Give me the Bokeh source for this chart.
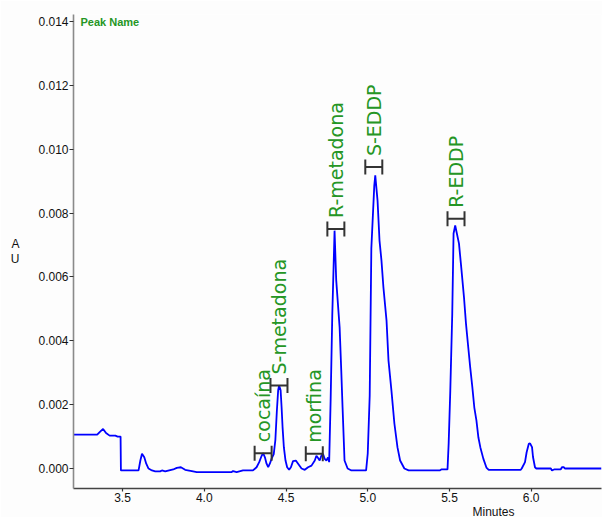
import math

from bokeh.core.properties import value
from bokeh.embed import file_html
from bokeh.models import (ColumnDataSource, FixedTicker, Label,
                          NumeralTickFormatter, Range1d, Title)
from bokeh.plotting import figure
from bokeh.resources import INLINE

# Chromatogram trace: retention time (minutes) and absorbance (AU)
time_min = [
    3.200, 3.345, 3.360, 3.381, 3.399, 3.421, 3.456, 3.470, 3.488, 3.490,
    3.598, 3.609, 3.619, 3.633, 3.645, 3.659, 3.680, 3.700, 3.730, 3.741,
    3.761, 3.810, 3.832, 3.857, 3.883, 3.924, 3.954, 4.168, 4.176, 4.198,
    4.237, 4.298, 4.320, 4.336, 4.351, 4.360, 4.371, 4.381, 4.391, 4.401,
    4.412, 4.425, 4.435, 4.444, 4.452, 4.458, 4.467, 4.473, 4.479, 4.487,
    4.497, 4.507, 4.519, 4.530, 4.543, 4.560, 4.574, 4.595, 4.615, 4.635,
    4.656, 4.676, 4.686, 4.696, 4.706, 4.716, 4.726, 4.737, 4.747, 4.757,
    4.764, 4.773, 4.783, 4.797, 4.807, 4.828, 4.838, 4.846, 4.858, 4.877,
    4.900, 4.990, 5.000, 5.012, 5.022, 5.040, 5.046, 5.060, 5.072, 5.084,
    5.096, 5.115, 5.127, 5.145, 5.163, 5.182, 5.198, 5.224, 5.250, 5.440,
    5.450, 5.488, 5.495, 5.505, 5.517, 5.525, 5.535, 5.558, 5.572, 5.589,
    5.601, 5.615, 5.627, 5.640, 5.652, 5.665, 5.677, 5.689, 5.707, 5.726,
    5.740, 5.935, 5.942, 5.962, 5.972, 5.985, 5.993, 6.005, 6.011, 6.023,
    6.031, 6.120, 6.127, 6.140, 6.180, 6.188, 6.200, 6.206, 6.430,
]
absorbance = [
    0.00106, 0.00106, 0.00114, 0.00124, 0.00111, 0.00103, 0.00103, 0.00100, 0.00100, -0.00006,
    -0.00006, 0.00025, 0.00046, 0.00035, 0.00015, 0.00000, -0.00006, -0.00009, -0.00009, -0.00006,
    -0.00009, -0.00003, 0.00002, 0.00004, -0.00004, -0.00008, -0.00011, -0.00011, -0.00008, -0.00011,
    -0.00006, -0.00006, 0.00004, 0.00020, 0.00040, 0.00048, 0.00035, 0.00015, 0.00004, 0.00015,
    0.00031, 0.00045, 0.00090, 0.00180, 0.00245, 0.00260, 0.00245, 0.00192, 0.00129, 0.00066,
    0.00025, 0.00004, -0.00004, 0.00004, 0.00023, 0.00025, 0.00015, 0.00000, -0.00004, 0.00004,
    0.00009, 0.00025, 0.00040, 0.00033, 0.00025, 0.00040, 0.00046, 0.00030, 0.00025, 0.00035,
    0.00020, 0.00213, 0.00479, 0.00745, 0.00591, 0.00442, 0.00307, 0.00191, 0.00025, 0.00000,
    -0.00006, -0.00006, 0.00047, 0.00228, 0.00689, 0.00886, 0.00918, 0.00839, 0.00714, 0.00651,
    0.00567, 0.00463, 0.00338, 0.00244, 0.00141, 0.00066, 0.00025, 0.00000, -0.00006, -0.00006,
    -0.00003, -0.00003, 0.00078, 0.00244, 0.00485, 0.00736, 0.00761, 0.00705, 0.00630, 0.00535,
    0.00454, 0.00379, 0.00316, 0.00254, 0.00191, 0.00150, 0.00097, 0.00066, 0.00031, 0.00003,
    -0.00004, -0.00004, 0.00000, 0.00020, 0.00051, 0.00077, 0.00079, 0.00067, 0.00036, 0.00004,
    0.00000, 0.00000, -0.00006, -0.00003, -0.00003, 0.00004, 0.00004, 0.00000, 0.00000,
]

# Identified peaks: name, apex time and marker height
peak_names = ["cocaína", "S-metadona", "morfina", "R-metadona", "S-EDDP", "R-EDDP"]
peak_times = [4.360, 4.457, 4.673, 4.805, 5.037, 5.540]
peak_heights = [0.00048, 0.00260, 0.00046, 0.00750, 0.00944, 0.00782]

x_ticks = [3.5, 4.0, 4.5, 5.0, 5.5, 6.0]
y_ticks = [0.000, 0.002, 0.004, 0.006, 0.008, 0.010, 0.012, 0.014]

GREEN = "#259625"
BG = "#fdfdfd"
INK = "#111111"

p = figure(
    width=602, height=517,
    output_backend="svg", toolbar_location=None,
    x_range=Range1d(3.2, 6.43), y_range=Range1d(-0.000626, 0.01422),
    min_border_left=73, min_border_right=1, min_border_top=14, min_border_bottom=29,
    background_fill_color=BG, border_fill_color=BG, outline_line_color=None,
)
p.grid.visible = False

# axes
p.xaxis.ticker = FixedTicker(ticks=x_ticks)
p.xaxis.formatter = NumeralTickFormatter(format="0.0")
p.yaxis.ticker = FixedTicker(ticks=y_ticks)
p.yaxis.formatter = NumeralTickFormatter(format="0.000")
for ax in (p.xaxis, p.yaxis):
    ax.minor_tick_line_color = None
    ax.major_tick_in = 0
    ax.major_label_text_font = "Liberation Sans"
    ax.major_label_text_font_size = "12px"
    ax.major_label_text_color = INK
    ax.major_tick_line_color = "#333333"
    ax.major_tick_line_width = 1.2
    ax.axis_label_text_font = "Liberation Sans"
    ax.axis_label_text_font_size = "12px"
    ax.axis_label_text_font_style = "normal"
    ax.axis_label_text_color = INK

p.xaxis.major_tick_out = 3
p.xaxis.major_label_standoff = 1
p.xaxis.axis_line_color = "#444444"
p.xaxis.axis_line_width = 1.6

p.yaxis.major_tick_out = 4
p.yaxis.major_label_standoff = 1
p.yaxis.axis_line_color = "#8a8a8a"
p.yaxis.axis_line_width = 1.6
p.yaxis.axis_label = "A\nU"
p.yaxis.axis_label_orientation = "horizontal"
p.yaxis.axis_label_standoff = 16
p.yaxis.axis_label_text_line_height = 1.05

# time-axis caption, placed toward the right end of the axis and tucked
# up beside the tick labels
p.add_layout(Title(text="Minutes", align="left", offset=399, standoff=-4,
                   text_font="Liberation Sans", text_font_size="12px",
                   text_font_style="normal", text_color=INK), "below")

# chromatogram trace
p.line(time_min, absorbance, line_color="#0000ff", line_width=1.8)

# peak markers: |-| brackets centred on each apex
half_w = 0.052
half_h = 0.000235
src = ColumnDataSource(dict(
    name=peak_names,
    t=peak_times,
    h=peak_heights,
    x0=[t - half_w for t in peak_times],
    x1=[t + half_w for t in peak_times],
    y0=[h - half_h for h in peak_heights],
    y1=[h + half_h for h in peak_heights],
))
p.segment(x0="x0", y0="h", x1="x1", y1="h", source=src, line_color="#333333", line_width=2)
p.segment(x0="x0", y0="y0", x1="x0", y1="y1", source=src, line_color="#333333", line_width=2)
p.segment(x0="x1", y0="y0", x1="x1", y1="y1", source=src, line_color="#333333", line_width=2)

# vertical peak names above the brackets
p.text(x="t", y="h", text="name", source=src, angle=math.pi / 2,
       text_align="left", text_baseline="middle", y_offset=-11,
       text_font=value("DejaVu Sans"), text_font_size="19px", text_color=GREEN)

# header in the top-left corner of the plot area, level with the top tick
p.add_layout(Label(x=7, y=y_ticks[-1], x_units="screen", y_units="data", text="Peak Name",
                   text_font="Liberation Sans", text_font_style="bold",
                   text_font_size="11px", text_color=GREEN, text_baseline="middle"))

open("out.html", "w").write(file_html(p, INLINE))
